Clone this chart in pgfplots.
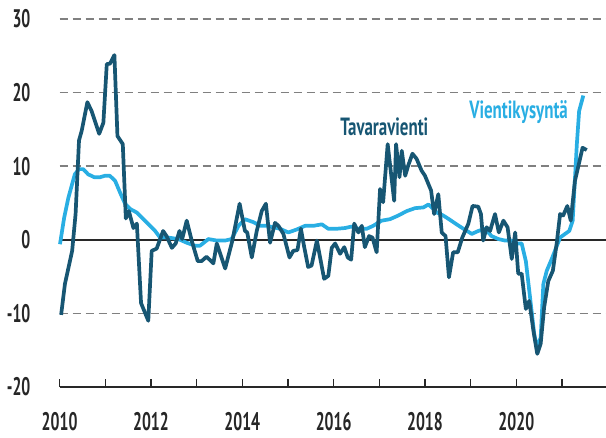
\documentclass[border=0pt]{standalone}
\usepackage{pgfplots}
\pgfplotsset{compat=1.18}
\usepackage{fontspec}
\setmainfont{PT Sans}[FakeStretch=0.68]
\newfontfamily\tickfont{PT Sans}[FakeStretch=0.62]
\definecolor{darkc}{RGB}{23,86,115}
\definecolor{lightc}{RGB}{41,174,227}
\definecolor{gridc}{RGB}{128,128,128}
\definecolor{axc}{RGB}{40,40,40}
\begin{document}
\begin{tikzpicture}
\begin{axis}[
  scale only axis,
  width=546.4bp, height=368bp,
  xmin=0, xmax=143.56,
  ymin=-20, ymax=30,
  axis x line*=bottom,
  axis y line*=left,
  y axis line style={draw=none},
  x axis line style={draw=axc, line width=1.4bp},
  ytick={-20,-10,0,10,20,30},
  yticklabels={-20,-10,0,10,20,30},
  ytick style={draw=none},
  xtick={0,24,48,72,96,120},
  xticklabels={2010,2012,2014,2016,2018,2020},
  minor xtick={12,36,60,84,108,132},
  xtick align=inside,
  major tick length=7.5bp,
  minor tick length=7.5bp,
  xtick style={draw=axc, line width=1.3bp},
  tick label style={font=\fontsize{25.5}{28}\tickfont\bfseries, text=black!85, inner sep=0pt},
  xticklabel style={anchor=north, yshift=-25bp},
  yticklabel style={anchor=east, xshift=-29bp},
  clip=false,
]
\foreach \yy in {-10,10,20,30} {
  \edef\tmp{\noexpand\draw[gridc, line width=1.4bp, dash pattern=on 8bp off 5bp] (axis cs:0,\yy) -- (axis cs:143.56,\yy);}
  \tmp
}
\draw[axc, line width=1.8bp] (axis cs:0,0) -- (axis cs:143.56,0);

\addplot[lightc, line width=3.7bp, line join=round] coordinates {
(0.1,-0.6) (1.2,3.0) (2.3,5.7) (4.0,8.9) (5.1,9.6) (6.2,9.6) (7.5,8.9) (9.1,8.5)
(10.6,8.5) (11.9,8.7) (13.2,8.7) (14.6,8.0) (15.9,6.4) (17.2,4.9) (18.5,4.2)
(20.3,3.7) (22.0,2.8) (23.8,1.9) (25.1,1.2) (26.4,0.3) (28.6,0.3) (31.2,0.1)
(33.4,-0.4) (35.6,-0.8) (36.9,-0.8) (39.1,0.1) (41.3,-0.1) (43.5,-0.1) (45.2,0.1)
(47.0,1.9) (48.7,2.8) (50.9,2.4) (52.7,1.9) (54.4,1.9) (56.1,1.7) (57.9,1.5)
(60.1,1.0) (62.3,1.4) (64.5,1.9) (66.7,1.9) (68.9,2.1) (70.6,1.5) (72.8,1.5)
(75.0,1.6) (76.7,1.8) (78.5,1.5) (80.7,1.5) (82.4,1.9) (84.6,2.6) (86.8,2.8)
(89.0,3.3) (91.2,3.9) (93.4,4.3) (95.6,4.4) (96.9,4.8) (98.2,4.2) (99.1,3.7)
(100.8,3.3) (102.6,2.7) (104.3,2.1) (106.1,1.5) (108.3,0.8) (110.0,1.2) (111.8,1.5)
(113.5,0.5) (115.3,0.1) (117.0,-0.1) (118.8,-0.1) (119.7,-0.5) (121.4,-0.5)
(122.5,-2.9) (123.6,-7.8) (124.7,-12.8) (125.4,-14.6) (126.4,-13.3) (127.1,-6.0)
(128.0,-4.2) (129.3,-2.6) (131.5,0.3) (132.8,0.8) (133.9,1.2) (134.8,2.6)
(135.9,13.0) (136.5,17.5) (137.6,19.6)
};

\addplot[darkc, line width=3.7bp, line join=round] coordinates {
(0.4,-10.2) (1.4,-6.0) (3.3,-1.5) (4.2,3.5) (5.1,13.5) (5.8,14.8) (7.3,18.7)
(8.4,17.5) (10.4,14.4) (11.5,15.9) (12.4,23.9) (13.2,23.9) (14.4,25.1) (15.2,14.1)
(16.6,13.0) (17.4,2.9) (18.2,3.9) (19.4,1.6) (20.3,2.2) (21.4,-8.6) (23.3,-11.0)
(24.2,-1.5) (25.5,-1.2) (27.2,1.2) (28.1,0.5) (29.5,-1.1) (30.5,-0.5) (31.5,1.2)
(32.2,0.1) (33.4,2.6) (34.7,-0.1) (36.3,-2.9) (37.3,-2.9) (38.6,-2.3) (40.4,-3.2)
(41.3,-0.5) (43.5,-3.9) (45.4,-0.1) (47.3,4.9) (48.7,1.2) (49.3,1.0) (50.5,-2.4)
(51.8,1.2) (53.1,3.9) (54.2,4.9) (55.3,-0.4) (56.6,2.3) (57.5,1.9) (58.8,0.8)
(60.4,-2.4) (61.4,-1.5) (62.5,-1.4) (63.4,1.5) (64.2,-0.8) (65.3,-3.7) (66.2,-3.5)
(67.6,-0.1) (69.5,-5.3) (70.6,-4.9) (71.5,-1.1) (72.4,-0.5) (73.7,-1.9) (74.8,-1.0)
(75.7,-2.4) (76.6,-2.7) (77.4,2.2) (78.5,1.0) (79.4,1.9) (80.2,-1.0) (81.3,0.5)
(82.2,0.3) (83.3,-1.7) (84.2,6.9) (85.0,5.1) (86.2,13.0) (87.9,5.3) (88.4,13.0)
(89.3,8.5) (89.9,12.1) (90.8,8.7) (91.6,10.1) (92.7,11.7) (93.8,11.0) (95.1,9.4)
(96.0,8.7) (97.6,6.7) (98.4,3.5) (99.5,6.2) (100.4,1.0) (101.4,0.5) (102.3,-5.1)
(103.4,-1.7) (104.6,-1.7) (105.8,0.3) (107.4,2.2) (108.5,4.6) (110.0,4.5)
(110.7,3.5) (111.3,-0.1) (112.2,1.7) (113.1,1.2) (114.4,3.5) (115.4,1.0) (116.6,2.6)
(117.7,1.7) (118.8,-2.6) (119.7,1.0) (120.5,-4.6) (121.4,-4.6) (122.5,-9.4)
(123.4,-8.3) (124.5,-12.4) (125.5,-15.5) (126.4,-14.1) (127.3,-9.2) (128.4,-5.6)
(129.6,-4.2) (130.6,-0.5) (131.5,3.5) (132.3,3.3) (133.4,4.6) (134.3,2.6)
(135.4,8.0) (137.4,12.5) (138.5,12.2)
};

\node[text=darkc, font=\fontsize{25}{28}\selectfont\bfseries] at (axis cs:85.3,15.4) {Tavaravienti};
\node[text=lightc, font=\fontsize{25}{28}\selectfont\bfseries] at (axis cs:120.6,17.4) {Vientikysyntä};
\end{axis}
\pgfresetboundingbox
\path (-59.6bp,-51bp) rectangle (546.4bp,387bp);
\end{tikzpicture}
\end{document}
